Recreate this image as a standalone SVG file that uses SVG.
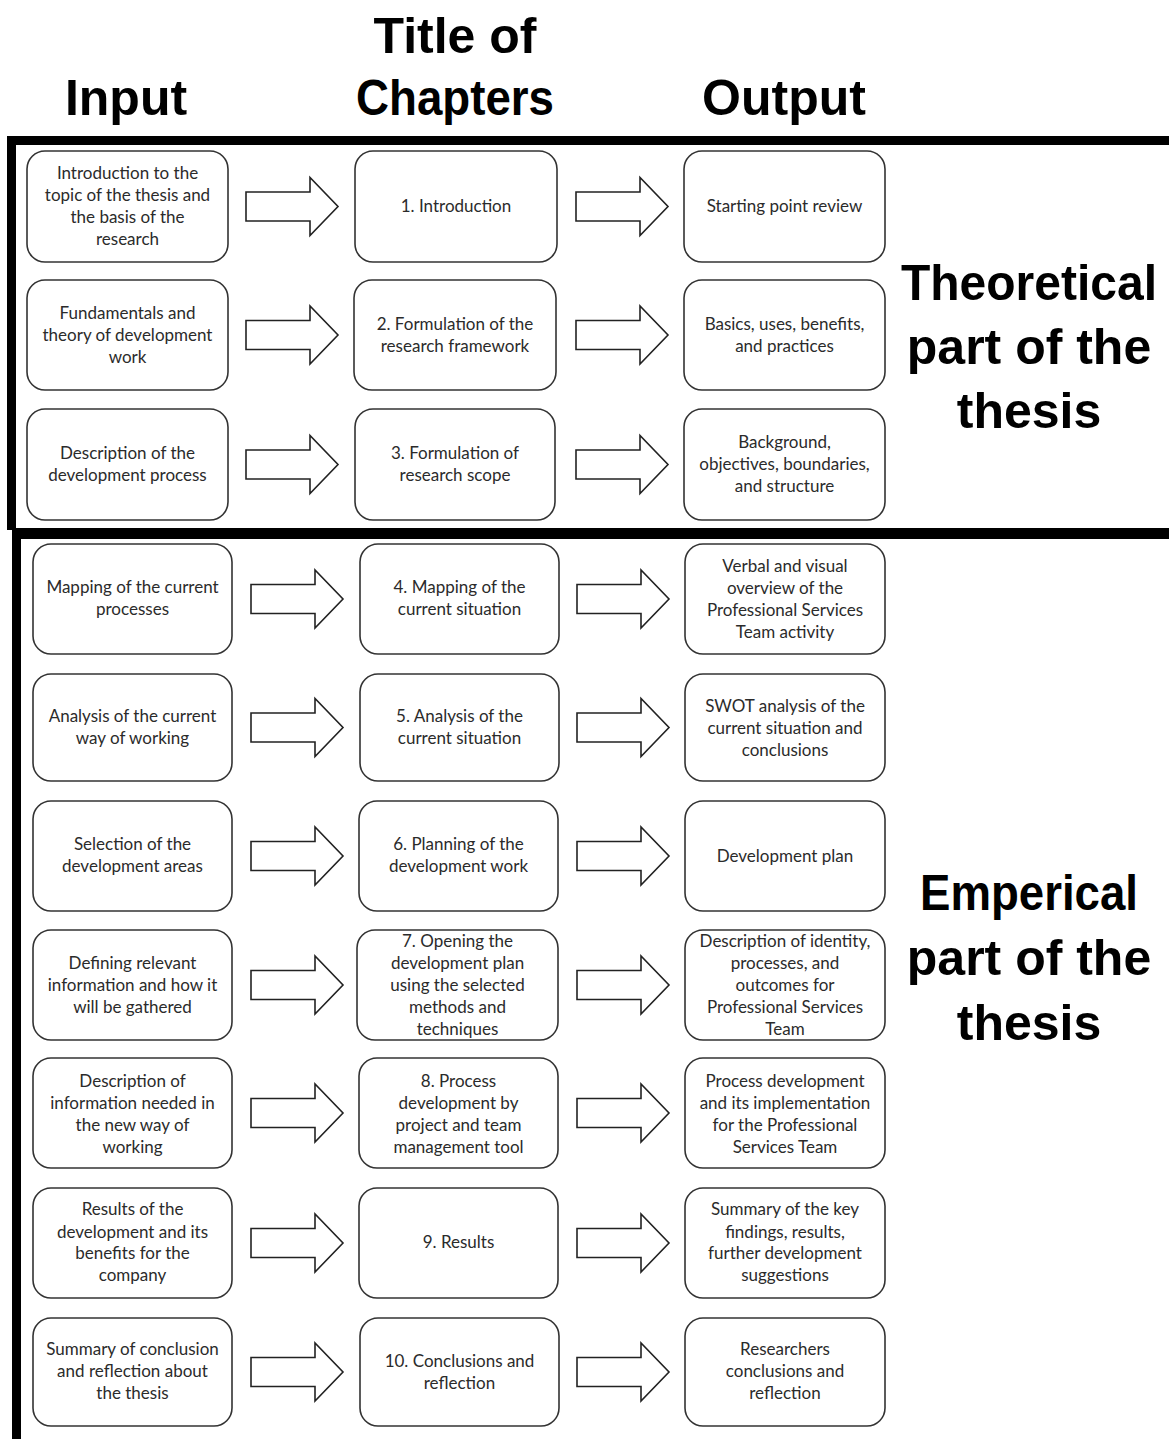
<svg xmlns="http://www.w3.org/2000/svg" width="1169" height="1439" viewBox="0 0 1169 1439">
  <style>
    .box { fill: #fff; stroke: #333; stroke-width: 1.6; }
    .lbl { font-family: Lato, "Liberation Sans", sans-serif; font-size: 17px; fill: #2b2b2b; text-anchor: middle; }
    .head { font-family: "Liberation Sans", Arial, sans-serif; font-weight: 700; font-size: 50px; fill: #000; text-anchor: middle; }
    .arrow { fill: #fff; stroke: #222; stroke-width: 1.6; stroke-linejoin: miter; }
    .frame { stroke: #000; fill: none; }
  </style>
  <defs>
    <!-- block arrow, drawn from x=0 with its axis on y=0 -->
    <path id="blk" d="M0,-14.5 H64 V-29 L92,0 L64,29 V14.5 H0 Z"/>
  </defs>
  <rect width="1169" height="1439" fill="#fff"/>

  <!-- column headings -->
  <g id="headings">
    <text class="head" x="126" y="115">Input</text>
    <text class="head" x="455" y="53">Title of</text>
    <text class="head" x="455" y="115" textLength="198" lengthAdjust="spacingAndGlyphs">Chapters</text>
    <text class="head" x="784" y="115">Output</text>
  </g>

  <!-- section frames -->
  <g id="frames" class="frame">
    <path d="M7,140.5 H1169" stroke-width="9"/>
    <path d="M11.5,136 V530" stroke-width="9"/>
    <path d="M12,533.5 H1169" stroke-width="11"/>
    <path d="M16.5,528 V1439" stroke-width="9"/>
  </g>

  <!-- section labels -->
  <g id="section-labels">
    <text class="head" x="1029" y="300" textLength="256" lengthAdjust="spacingAndGlyphs">Theoretical</text>
    <text class="head" x="1029" y="364">part of the</text>
    <text class="head" x="1029" y="428">thesis</text>
    <text class="head" x="1029" y="910" textLength="218" lengthAdjust="spacingAndGlyphs">Emperical</text>
    <text class="head" x="1029" y="975">part of the</text>
    <text class="head" x="1029" y="1040">thesis</text>
  </g>

  <!-- connectors -->
  <g id="connectors">
    <use href="#blk" class="arrow" x="246" y="206.5"/>
    <use href="#blk" class="arrow" x="576" y="206.5"/>
    <use href="#blk" class="arrow" x="246" y="335"/>
    <use href="#blk" class="arrow" x="576" y="335"/>
    <use href="#blk" class="arrow" x="246" y="464.5"/>
    <use href="#blk" class="arrow" x="576" y="464.5"/>
    <use href="#blk" class="arrow" x="251" y="599"/>
    <use href="#blk" class="arrow" x="577" y="599"/>
    <use href="#blk" class="arrow" x="251" y="727.5"/>
    <use href="#blk" class="arrow" x="577" y="727.5"/>
    <use href="#blk" class="arrow" x="251" y="856"/>
    <use href="#blk" class="arrow" x="577" y="856"/>
    <use href="#blk" class="arrow" x="251" y="985"/>
    <use href="#blk" class="arrow" x="577" y="985"/>
    <use href="#blk" class="arrow" x="251" y="1113"/>
    <use href="#blk" class="arrow" x="577" y="1113"/>
    <use href="#blk" class="arrow" x="251" y="1243"/>
    <use href="#blk" class="arrow" x="577" y="1243"/>
    <use href="#blk" class="arrow" x="251" y="1372"/>
    <use href="#blk" class="arrow" x="577" y="1372"/>
  </g>

  <!-- row 1 -->
  <g id="in-1"><rect class="box" x="27" y="151" width="201" height="111" rx="18"/>
    <text class="lbl" x="127.5"><tspan x="127.5" y="179">Introduction to the</tspan><tspan x="127.5" y="201">topic of the thesis and</tspan><tspan x="127.5" y="223">the basis of the</tspan><tspan x="127.5" y="245">research</tspan></text></g>
  <g id="ch-1"><rect class="box" x="355" y="151" width="202" height="111" rx="18"/>
    <text class="lbl" x="456" y="212">1. Introduction</text></g>
  <g id="out-1"><rect class="box" x="684" y="151" width="201" height="111" rx="18"/>
    <text class="lbl" x="784.5" y="212">Starting point review</text></g>

  <!-- row 2 -->
  <g id="in-2"><rect class="box" x="27" y="280" width="201" height="110" rx="18"/>
    <text class="lbl"><tspan x="127.5" y="319">Fundamentals and</tspan><tspan x="127.5" y="341">theory of development</tspan><tspan x="127.5" y="363">work</tspan></text></g>
  <g id="ch-2"><rect class="box" x="354" y="280" width="202" height="110" rx="18"/>
    <text class="lbl"><tspan x="455" y="330">2. Formulation of the</tspan><tspan x="455" y="352">research framework</tspan></text></g>
  <g id="out-2"><rect class="box" x="684" y="280" width="201" height="110" rx="18"/>
    <text class="lbl"><tspan x="784.5" y="330">Basics, uses, benefits,</tspan><tspan x="784.5" y="352">and practices</tspan></text></g>

  <!-- row 3 -->
  <g id="in-3"><rect class="box" x="27" y="409" width="201" height="111" rx="18"/>
    <text class="lbl"><tspan x="127.5" y="459">Description of the</tspan><tspan x="127.5" y="481">development process</tspan></text></g>
  <g id="ch-3"><rect class="box" x="355" y="409" width="200" height="111" rx="18"/>
    <text class="lbl"><tspan x="455" y="459">3. Formulation of</tspan><tspan x="455" y="481">research scope</tspan></text></g>
  <g id="out-3"><rect class="box" x="684" y="409" width="201" height="111" rx="18"/>
    <text class="lbl"><tspan x="784.5" y="448">Background,</tspan><tspan x="784.5" y="470">objectives, boundaries,</tspan><tspan x="784.5" y="492">and structure</tspan></text></g>

  <!-- row 4 -->
  <g id="in-4"><rect class="box" x="33" y="544" width="199" height="110" rx="18"/>
    <text class="lbl"><tspan x="132.5" y="593">Mapping of the current</tspan><tspan x="132.5" y="615">processes</tspan></text></g>
  <g id="ch-4"><rect class="box" x="360" y="544" width="199" height="110" rx="18"/>
    <text class="lbl"><tspan x="459.5" y="593">4. Mapping of the</tspan><tspan x="459.5" y="615">current situation</tspan></text></g>
  <g id="out-4"><rect class="box" x="685" y="544" width="200" height="110" rx="18"/>
    <text class="lbl"><tspan x="785" y="572">Verbal and visual</tspan><tspan x="785" y="594">overview of the</tspan><tspan x="785" y="616">Professional Services</tspan><tspan x="785" y="638">Team activity</tspan></text></g>

  <!-- row 5 -->
  <g id="in-5"><rect class="box" x="33" y="674" width="199" height="107" rx="18"/>
    <text class="lbl"><tspan x="132.5" y="722">Analysis of the current</tspan><tspan x="132.5" y="744">way of working</tspan></text></g>
  <g id="ch-5"><rect class="box" x="360" y="674" width="199" height="107" rx="18"/>
    <text class="lbl"><tspan x="459.5" y="722">5. Analysis of the</tspan><tspan x="459.5" y="744">current situation</tspan></text></g>
  <g id="out-5"><rect class="box" x="685" y="674" width="200" height="107" rx="18"/>
    <text class="lbl"><tspan x="785" y="712">SWOT analysis of the</tspan><tspan x="785" y="734">current situation and</tspan><tspan x="785" y="756">conclusions</tspan></text></g>

  <!-- row 6 -->
  <g id="in-6"><rect class="box" x="33" y="801" width="199" height="110" rx="18"/>
    <text class="lbl"><tspan x="132.5" y="850">Selection of the</tspan><tspan x="132.5" y="872">development areas</tspan></text></g>
  <g id="ch-6"><rect class="box" x="359" y="801" width="199" height="110" rx="18"/>
    <text class="lbl"><tspan x="458.5" y="850">6. Planning of the</tspan><tspan x="458.5" y="872">development work</tspan></text></g>
  <g id="out-6"><rect class="box" x="685" y="801" width="200" height="110" rx="18"/>
    <text class="lbl" x="785" y="862">Development plan</text></g>

  <!-- row 7 -->
  <g id="in-7"><rect class="box" x="33" y="930" width="199" height="110" rx="18"/>
    <text class="lbl"><tspan x="132.5" y="969">Defining relevant</tspan><tspan x="132.5" y="991">information and how it</tspan><tspan x="132.5" y="1013">will be gathered</tspan></text></g>
  <g id="ch-7"><rect class="box" x="357" y="930" width="201" height="110" rx="18"/>
    <text class="lbl"><tspan x="457.5" y="947">7. Opening the</tspan><tspan x="457.5" y="969">development plan</tspan><tspan x="457.5" y="991">using the selected</tspan><tspan x="457.5" y="1013">methods and</tspan><tspan x="457.5" y="1035">techniques</tspan></text></g>
  <g id="out-7"><rect class="box" x="685" y="930" width="200" height="110" rx="18"/>
    <text class="lbl"><tspan x="785" y="947">Description of identity,</tspan><tspan x="785" y="969">processes, and</tspan><tspan x="785" y="991">outcomes for</tspan><tspan x="785" y="1013">Professional Services</tspan><tspan x="785" y="1035">Team</tspan></text></g>

  <!-- row 8 -->
  <g id="in-8"><rect class="box" x="33" y="1058" width="199" height="110" rx="18"/>
    <text class="lbl"><tspan x="132.5" y="1087">Description of</tspan><tspan x="132.5" y="1109">information needed in</tspan><tspan x="132.5" y="1131">the new way of</tspan><tspan x="132.5" y="1153">working</tspan></text></g>
  <g id="ch-8"><rect class="box" x="359" y="1058" width="199" height="110" rx="18"/>
    <text class="lbl"><tspan x="458.5" y="1087">8. Process</tspan><tspan x="458.5" y="1109">development by</tspan><tspan x="458.5" y="1131">project and team</tspan><tspan x="458.5" y="1153">management tool</tspan></text></g>
  <g id="out-8"><rect class="box" x="685" y="1058" width="200" height="110" rx="18"/>
    <text class="lbl"><tspan x="785" y="1087">Process development</tspan><tspan x="785" y="1109">and its implementation</tspan><tspan x="785" y="1131">for the Professional</tspan><tspan x="785" y="1153">Services Team</tspan></text></g>

  <!-- row 9 -->
  <g id="in-9"><rect class="box" x="33" y="1188" width="199" height="110" rx="18"/>
    <text class="lbl"><tspan x="132.5" y="1215">Results of the</tspan><tspan x="132.5" y="1238">development  and its</tspan><tspan x="132.5" y="1259">benefits for the</tspan><tspan x="132.5" y="1281">company</tspan></text></g>
  <g id="ch-9"><rect class="box" x="359" y="1188" width="199" height="110" rx="18"/>
    <text class="lbl" x="458.5" y="1248">9. Results</text></g>
  <g id="out-9"><rect class="box" x="685" y="1188" width="200" height="110" rx="18"/>
    <text class="lbl"><tspan x="785" y="1215">Summary of the key</tspan><tspan x="785" y="1238">findings, results,</tspan><tspan x="785" y="1259">further development</tspan><tspan x="785" y="1281">suggestions</tspan></text></g>

  <!-- row 10 -->
  <g id="in-10"><rect class="box" x="33" y="1318" width="199" height="108" rx="18"/>
    <text class="lbl"><tspan x="132.5" y="1355">Summary of conclusion</tspan><tspan x="132.5" y="1377">and reflection about</tspan><tspan x="132.5" y="1399">the thesis</tspan></text></g>
  <g id="ch-10"><rect class="box" x="360" y="1318" width="199" height="108" rx="18"/>
    <text class="lbl"><tspan x="459.5" y="1367">10. Conclusions and</tspan><tspan x="459.5" y="1389">reflection</tspan></text></g>
  <g id="out-10"><rect class="box" x="685" y="1318" width="200" height="108" rx="18"/>
    <text class="lbl"><tspan x="785" y="1355">Researchers</tspan><tspan x="785" y="1377">conclusions and</tspan><tspan x="785" y="1399">reflection</tspan></text></g>
</svg>
